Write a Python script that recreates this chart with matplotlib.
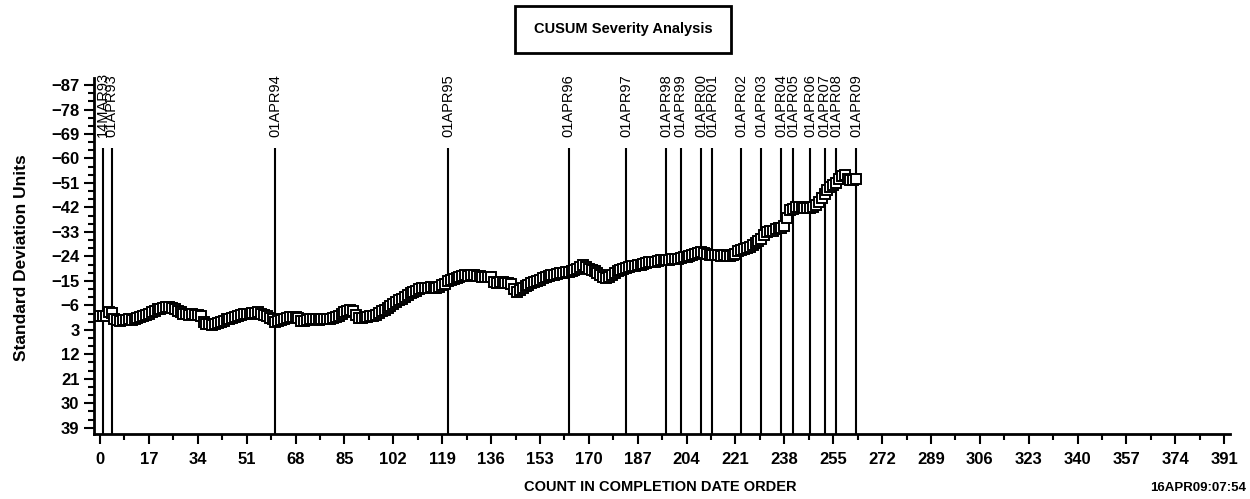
import numpy as np
import matplotlib
matplotlib.use("Agg")
import matplotlib.pyplot as plt
from matplotlib.patches import Rectangle
from matplotlib.ticker import MultipleLocator, FixedLocator

# cusum values, one per count
counts = list(range(264))
cusum = [
    -2.0, -2.2, -2.0, -3.5, -3.2, -1.0, -0.5, -0.3, -0.6, -0.5,
    -0.8, -0.7, -1.0, -1.3, -1.6, -2.0, -2.4, -2.9, -3.5, -4.0,
    -4.5, -4.6, -5.0, -5.5, -5.3, -5.0, -4.6, -4.0, -3.4, -3.0,
    -2.7, -2.5, -2.8, -2.6, -2.4, -2.0, 0.3, 0.8, 1.0, 1.2,
    0.9, 0.4, 0.0, -0.4, -0.8, -1.0, -1.4, -1.8, -2.0, -2.4,
    -2.8, -3.0, -2.9, -3.2, -3.3, -3.5, -3.0, -2.6, -2.0, -1.5,
    -0.8, 0.0, -0.3, -0.6, -1.0, -1.5, -1.7, -1.8, -1.6, -1.3,
    -0.2, -0.4, -0.7, -0.8, -0.9, -0.8, -0.7, -0.9, -0.8, -1.0,
    -0.9, -1.2, -1.6, -2.2, -2.8, -3.4, -3.9, -4.3, -3.8, -2.4,
    -1.3, -1.5, -1.7, -1.8, -2.0, -2.2, -2.5, -3.2, -3.8, -4.4,
    -5.0, -5.8, -6.5, -7.3, -8.0, -8.5, -9.1, -9.8, -10.4, -10.8,
    -11.3, -11.9, -12.4, -12.5, -12.3, -12.6, -12.5, -12.4, -12.6, -13.4,
    -14.0, -14.8, -15.5, -15.7, -16.0, -16.4, -16.8, -17.0, -16.8, -17.2,
    -17.3, -16.9, -16.7, -16.5, -16.6, -16.4, -16.5, -14.5, -14.3, -14.6,
    -14.5, -14.3, -14.2, -14.0, -12.0, -11.0, -11.6, -12.4, -13.0, -13.6,
    -14.1, -14.5, -15.0, -15.5, -16.0, -16.4, -16.7, -17.0, -17.0, -17.4,
    -17.8, -18.0, -18.1, -18.2, -18.6, -19.1, -19.5, -20.2, -20.8, -20.2,
    -19.5, -19.0, -18.5, -17.8, -17.0, -16.5, -16.2, -16.5, -17.0, -17.8,
    -18.5, -19.0, -19.4, -19.7, -20.0, -20.3, -20.5, -20.8, -21.0, -21.3,
    -21.5, -21.8, -22.0, -22.1, -22.4, -22.6, -22.5, -22.8, -22.8, -23.0,
    -23.2, -23.1, -23.4, -23.6, -23.8, -24.0, -24.5, -25.0, -25.4, -25.6,
    -25.2, -24.8, -24.6, -24.5, -24.4, -24.5, -24.3, -24.4, -24.2, -24.2,
    -24.5, -25.0, -25.8, -26.5, -26.8, -27.1, -27.5, -28.2, -29.0, -29.8,
    -30.5, -31.8, -33.0, -33.2, -33.5, -34.0, -34.3, -34.6, -35.0, -38.0,
    -41.0, -41.5, -42.0, -42.1, -42.0, -41.9, -41.8, -41.9, -42.0, -43.0,
    -44.0, -45.5, -47.0, -48.3, -49.5, -50.3, -51.0, -52.3, -53.5, -54.0,
    -52.5, -52.2, -52.0, -52.5,
]

# reference dates and where they fall in the count order
ref_counts = [1, 4, 61, 121, 163, 183, 197, 202, 209, 213, 223, 230, 237, 241, 247, 252, 256, 263]
ref_labels = ["14MAR93", "01APR93", "01APR94", "01APR95", "01APR96", "01APR97",
              "01APR98", "01APR99", "01APR00", "01APR01", "01APR02", "01APR03",
              "01APR04", "01APR05", "01APR06", "01APR07", "01APR08", "01APR09"]

x_ticks = list(range(0, 392, 17))
y_ticks = list(range(-87, 40, 9))

plt.rcParams['font.family'] = ['Liberation Sans', 'DejaVu Sans']

fig = plt.figure(figsize=(12.5, 4.99), dpi=100)
ax = fig.add_axes([0.0752, 0.1303, 0.9088, 0.7134])

ax.plot(counts, cusum, color='black', lw=2.2, marker='s', ms=6.5,
        mfc='white', mec='black', mew=1.4, zorder=3)

ax.vlines(ref_counts, 41.3, -63.8, color='black', lw=1.5, zorder=2)
for c, lab in zip(ref_counts, ref_labels):
    ax.text(c, -67.9, lab, rotation=90, ha='center', va='bottom', fontsize=10.5)

ax.set_xlim(-2.1, 393)
ax.set_ylim(41.3, -89.6)

ax.xaxis.set_major_locator(FixedLocator(x_ticks))
ax.xaxis.set_minor_locator(MultipleLocator(8.5))
ax.yaxis.set_major_locator(FixedLocator(y_ticks))
ax.yaxis.set_minor_locator(MultipleLocator(3))
ax.set_xticklabels([str(v) for v in x_ticks])
ax.set_yticklabels([str(v).replace('-', '\u2212') for v in y_ticks])

for s in ['top', 'right']:
    ax.spines[s].set_visible(False)
for s in ['left', 'bottom']:
    ax.spines[s].set_linewidth(2)
ax.tick_params(which='major', length=7, width=1.5, labelsize=12, direction='out')
ax.tick_params(which='minor', length=4, width=1.5, direction='out')
ax.tick_params(axis='x', pad=6)
for lab in ax.get_xticklabels() + ax.get_yticklabels():
    lab.set_fontweight('bold')

fig.text(0.528, 0.024, 'COUNT IN COMPLETION DATE ORDER', ha='center', va='center',
         fontsize=10.5, fontweight='bold')
fig.text(0.017, 0.483, 'Standard Deviation Units', ha='center', va='center',
         rotation=90, fontsize=12.5, fontweight='bold')

# title box
fig.patches.append(Rectangle((0.412, 0.8938), 0.1728, 0.0942, transform=fig.transFigure,
                             fill=False, ec='black', lw=2))
fig.text(0.4984, 0.941, 'CUSUM Severity Analysis', ha='center', va='center',
         fontsize=10.5, fontweight='bold')
fig.text(0.997, 0.022, '16APR09:07:54', ha='right', va='center',
         fontsize=9.5, fontweight='bold')

fig.savefig('out.png', dpi=100)
